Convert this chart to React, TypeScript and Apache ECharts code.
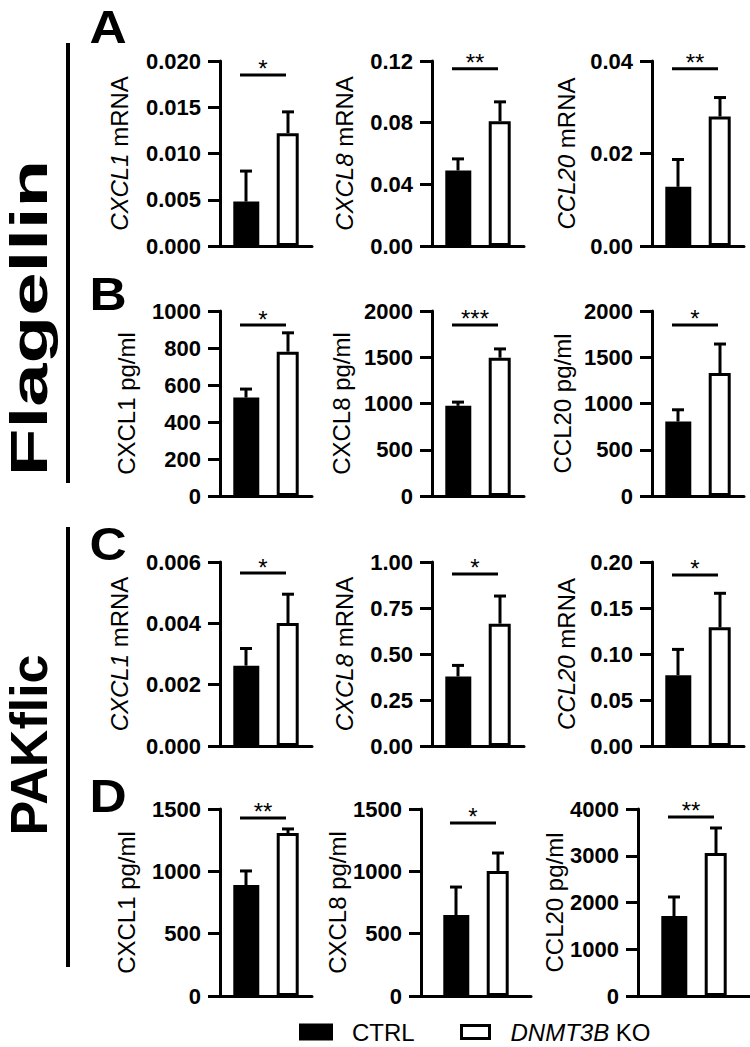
import React, { useEffect, useRef } from "react";
import * as echarts from "echarts";

const FONT = "'Liberation Sans', Arial, Helvetica, sans-serif";

const groupNames = ["CTRL", "DNMT3B KO"];
const stimuli = ["Flagellin", "PAKflic"];
const panelLetters = ["A", "B", "C", "D"];

// Row A – Flagellin, mRNA
const rowATitles = ["{i|CXCL1} mRNA", "{i|CXCL8} mRNA", "{i|CCL20} mRNA"];
const rowACtrl = [0.0048, 0.049, 0.0128];
const rowACtrlSem = [0.0033, 0.0075, 0.0059];
const rowAKo = [0.0122, 0.081, 0.028];
const rowAKoSem = [0.0023, 0.0125, 0.0041];
const rowASigY = [0.0185, 0.115, 0.0383];
const rowAStars = ["*", "**", "**"];
const rowATicks = [
  ["0.000", "0.005", "0.010", "0.015", "0.020"],
  ["0.00", "0.04", "0.08", "0.12"],
  ["0.00", "0.02", "0.04"],
];

// Row B – Flagellin, protein
const rowBTitles = ["CXCL1 pg/ml", "CXCL8 pg/ml", "CCL20 pg/ml"];
const rowBCtrl = [532, 975, 805];
const rowBCtrlSem = [46, 40, 127];
const rowBKo = [780, 1495, 1330];
const rowBKoSem = [102, 95, 313];
const rowBSigY = [924, 1849, 1849];
const rowBStars = ["*", "***", "*"];
const rowBTicks = [
  ["0", "200", "400", "600", "800", "1000"],
  ["0", "500", "1000", "1500", "2000"],
  ["0", "500", "1000", "1500", "2000"],
];

// Row C – PAKflic, mRNA
const rowCTitles = ["{i|CXCL1} mRNA", "{i|CXCL8} mRNA", "{i|CCL20} mRNA"];
const rowCCtrl = [0.00262, 0.378, 0.077];
const rowCCtrlSem = [0.00056, 0.06, 0.028];
const rowCKo = [0.00401, 0.665, 0.129];
const rowCKoSem = [0.00094, 0.15, 0.037];
const rowCSigY = [0.00564, 0.935, 0.186];
const rowCStars = ["*", "*", "*"];
const rowCTicks = [
  ["0.000", "0.002", "0.004", "0.006"],
  ["0.00", "0.25", "0.50", "0.75", "1.00"],
  ["0.00", "0.05", "0.10", "0.15", "0.20"],
];

// Row D – PAKflic, protein
const rowDTitles = ["CXCL1 pg/ml", "CXCL8 pg/ml", "CCL20 pg/ml"];
const rowDCtrl = [890, 650, 1711];
const rowDCtrlSem = [113, 224, 407];
const rowDKo = [1307, 1003, 3059];
const rowDKoSem = [33, 144, 535];
const rowDSigY = [1428, 1388, 3829];
const rowDStars = ["**", "*", "**"];
const rowDTicks = [
  ["0", "500", "1000", "1500"],
  ["0", "500", "1000", "1500"],
  ["0", "1000", "2000", "3000", "4000"],
];

const rows = [
  { titles: rowATitles, ctrl: rowACtrl, ctrlSem: rowACtrlSem, ko: rowAKo, koSem: rowAKoSem, sig: rowASigY, stars: rowAStars, ticks: rowATicks },
  { titles: rowBTitles, ctrl: rowBCtrl, ctrlSem: rowBCtrlSem, ko: rowBKo, koSem: rowBKoSem, sig: rowBSigY, stars: rowBStars, ticks: rowBTicks },
  { titles: rowCTitles, ctrl: rowCCtrl, ctrlSem: rowCCtrlSem, ko: rowCKo, koSem: rowCKoSem, sig: rowCSigY, stars: rowCStars, ticks: rowCTicks },
  { titles: rowDTitles, ctrl: rowDCtrl, ctrlSem: rowDCtrlSem, ko: rowDKo, koSem: rowDKoSem, sig: rowDSigY, stars: rowDStars, ticks: rowDTicks },
];

// layout (pixels)
const rowTop = [61, 311, 562, 809];
const rowHeight = [185, 185, 184, 187];
const axisLeft = [
  [220, 432, 652],
  [220, 432, 652],
  [220, 432, 652],
  [220, 421, 638],
];
const axisWidth = [
  [92, 92, 92],
  [92, 92, 92],
  [92, 92, 92],
  [92, 110, 118],
];
const nameGaps = [
  [89, 76, 74],
  [82, 79, 78],
  [89, 76, 74],
  [82, 68, 64],
];

function buildOption() {
  const grid: any[] = [];
  const xAxis: any[] = [];
  const yAxis: any[] = [];
  const series: any[] = [];
  let gi = 0;
  rows.forEach((row, r) => {
    for (let c = 0; c < 3; c++) {
      const ticks = row.ticks[c];
      const maxV = parseFloat(ticks[ticks.length - 1]);
      const step = parseFloat(ticks[1]);
      grid.push({ left: axisLeft[r][c], top: rowTop[r], width: axisWidth[r][c], height: rowHeight[r], containLabel: false });
      xAxis.push({
        type: "category",
        gridIndex: gi,
        data: [stimuli[r < 2 ? 0 : 1]],
        axisLine: { show: true, lineStyle: { color: "#000", width: 3 } },
        axisTick: { show: false },
        axisLabel: { show: false },
      });
      yAxis.push({
        type: "value",
        gridIndex: gi,
        min: 0,
        max: maxV,
        interval: step,
        splitLine: { show: false },
        axisLine: { show: true, lineStyle: { color: "#000", width: 3 } },
        axisTick: { show: true, length: 12, lineStyle: { color: "#000", width: 3 } },
        axisLabel: {
          color: "#000",
          fontFamily: FONT,
          fontWeight: "bold",
          fontSize: 22,
          margin: 19,
          formatter: (v: number, idx: number) => {
            let best = ticks[idx] ?? String(v);
            ticks.forEach((t) => {
              if (Math.abs(parseFloat(t) - v) < step * 1e-3) best = t;
            });
            return best;
          },
        },
        name: row.titles[c],
        nameLocation: "middle",
        nameRotate: 90,
        nameGap: nameGaps[r][c],
        nameTextStyle: {
          color: "#000",
          fontFamily: FONT,
          fontSize: 24,
          rich: { i: { fontStyle: "italic", fontSize: 24, fontFamily: FONT, color: "#000" } },
        },
      });
      series.push({
        type: "bar",
        name: groupNames[0],
        xAxisIndex: gi,
        yAxisIndex: gi,
        data: [row.ctrl[c]],
        barWidth: 26,
        barGap: "67%",
        itemStyle: { color: "#000" },
        z: 2,
      });
      series.push({
        type: "bar",
        name: groupNames[1],
        xAxisIndex: gi,
        yAxisIndex: gi,
        data: [row.ko[c]],
        barWidth: 22,
        barGap: "67%",
        itemStyle: { color: "#fff", borderColor: "#000", borderWidth: 3 },
        z: 2,
      });
      series.push({
        type: "custom",
        name: "sem",
        xAxisIndex: gi,
        yAxisIndex: gi,
        z: 3,
        encode: { x: 0, y: 2 },
        data: [
          [0, row.ctrl[c], row.ctrl[c] + row.ctrlSem[c], 0],
          [0, row.ko[c], row.ko[c] + row.koSem[c], 1],
        ],
        renderItem: (params: any, api: any) => {
          const off = api.value(3) === 0 ? -20 : 22;
          const top = api.coord([api.value(0), api.value(2)]);
          const base = api.coord([api.value(0), api.value(1)]);
          const x = top[0] + off;
          return {
            type: "group",
            children: [
              { type: "line", shape: { x1: x, y1: base[1], x2: x, y2: top[1] }, style: { stroke: "#000", lineWidth: 3 } },
              { type: "line", shape: { x1: x - 6, y1: top[1], x2: x + 6, y2: top[1] }, style: { stroke: "#000", lineWidth: 3 } },
            ],
          };
        },
      });
      series.push({
        type: "custom",
        name: "sig",
        xAxisIndex: gi,
        yAxisIndex: gi,
        z: 3,
        encode: { x: 0, y: 1 },
        data: [[0, row.sig[c]]],
        renderItem: (params: any, api: any) => {
          const p = api.coord([api.value(0), api.value(1)]);
          return {
            type: "group",
            children: [
              { type: "line", shape: { x1: p[0] - 26, y1: p[1], x2: p[0] + 20, y2: p[1] }, style: { stroke: "#000", lineWidth: 3 } },
              {
                type: "text",
                x: p[0] - 3,
                y: p[1] - 6,
                style: { text: row.stars[c], fill: "#000", font: `24px ${FONT}`, align: "center", verticalAlign: "middle" },
              },
            ],
          };
        },
      });
      gi++;
    }
  });

  const graphic: any[] = [
    { type: "line", shape: { x1: 68, y1: 43, x2: 68, y2: 483 }, style: { stroke: "#000", lineWidth: 4 } },
    { type: "line", shape: { x1: 68, y1: 527, x2: 68, y2: 967 }, style: { stroke: "#000", lineWidth: 4 } },
    {
      type: "text", x: 29, y: 318, rotation: Math.PI / 2, scaleX: 1.5,
      style: { text: stimuli[0], fill: "#000", font: `bold 52px ${FONT}`, align: "center", verticalAlign: "middle" },
    },
    {
      type: "text", x: 29, y: 745, rotation: Math.PI / 2,
      style: { text: stimuli[1], fill: "#000", font: `bold 52px ${FONT}`, align: "center", verticalAlign: "middle" },
    },
  ];
  const letterPos = [[108, 27], [108, 294], [108, 544], [108, 796]];
  panelLetters.forEach((L, i) => {
    graphic.push({
      type: "text", x: letterPos[i][0], y: letterPos[i][1], scaleX: 1.12,
      style: { text: L, fill: "#000", font: `bold 46px ${FONT}`, align: "center", verticalAlign: "middle" },
    });
  });

  return {
    animation: false,
    backgroundColor: "#fff",
    grid,
    xAxis,
    yAxis,
    series,
    graphic,
    legend: [
      {
        data: [groupNames[0]],
        left: 299,
        top: 1020,
        padding: 0,
        icon: "rect",
        itemWidth: 34,
        itemHeight: 17,
        selectedMode: false,
        textStyle: { color: "#000", fontFamily: FONT, fontSize: 24, padding: [0, 0, 0, 14] },
      },
      {
        data: [{ name: groupNames[1], itemStyle: { color: "#fff", borderColor: "#000", borderWidth: 3 } }],
        left: 460,
        top: 1020,
        padding: 0,
        icon: "rect",
        itemWidth: 28,
        itemHeight: 13,
        selectedMode: false,
        formatter: () => "{i|DNMT3B} KO",
        textStyle: {
          color: "#000",
          fontFamily: FONT,
          fontSize: 24,
          padding: [0, 0, 0, 16],
          rich: { i: { fontStyle: "italic", fontSize: 24, fontFamily: FONT, color: "#000" } },
        },
      },
    ],
  };
}

export default function App() {
  const ref = useRef<HTMLDivElement>(null);
  useEffect(() => {
    if (!ref.current) return;
    const chart = echarts.init(ref.current, undefined, { renderer: "svg" });
    chart.setOption(buildOption() as any);
    return () => chart.dispose();
  }, []);
  return (
    <div
      ref={ref}
      style={{ position: "absolute", left: 0, top: 0, width: 750, height: 1047, background: "#fff" }}
    />
  );
}
